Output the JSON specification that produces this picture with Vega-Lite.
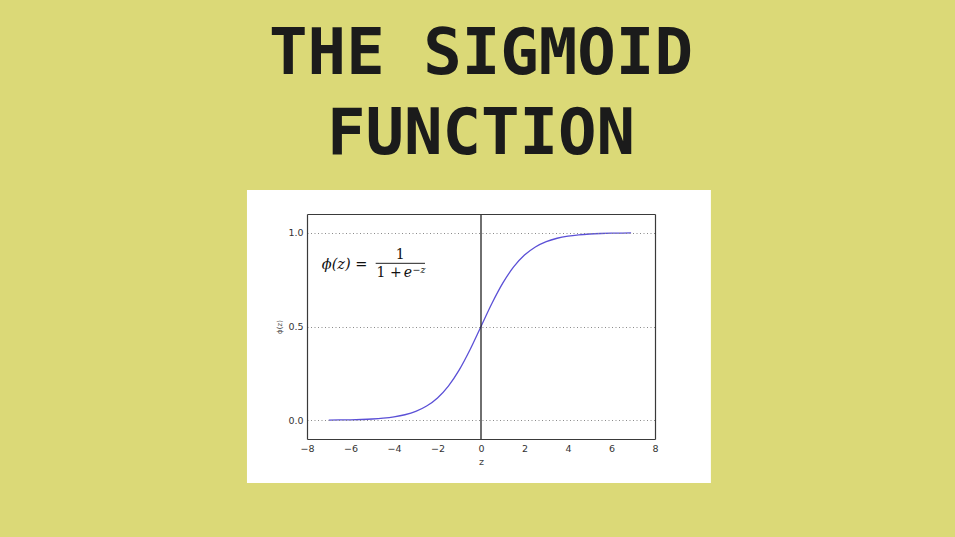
{
  "$schema": "https://vega.github.io/schema/vega-lite/v6.json",
  "width": 348,
  "height": 225,
  "autosize": {"type": "none"},
  "padding": {"left": 307, "top": 214, "right": 300, "bottom": 98},
  "background": "#dbd977",
  "title": {
    "text": ["THE SIGMOID", "FUNCTION"],
    "font": "DejaVu Sans Mono",
    "fontSize": 64,
    "fontWeight": "bold",
    "color": "#1b1b1b",
    "lineHeight": 80,
    "anchor": "middle",
    "offset": 23
  },
  "config": {
    "view": {"stroke": null},
    "axis": {
      "domainColor": "#3a3a3a",
      "domainWidth": 1.2,
      "tickColor": "#3a3a3a",
      "tickSize": 0,
      "labelFont": "DejaVu Sans",
      "labelFontSize": 9.5,
      "labelColor": "#333333",
      "labelFlush": false,
      "titleFont": "DejaVu Sans",
      "titleFontWeight": "normal",
      "titleColor": "#444444",
      "grid": false
    }
  },
  "datasets": {
    "one": [{"item": "panel"}],
    "sigmoid": [
      {"z": -7.0, "phi": 0.000911},
      {"z": -6.5, "phi": 0.001501},
      {"z": -6.0, "phi": 0.002473},
      {"z": -5.5, "phi": 0.00407},
      {"z": -5.0, "phi": 0.006693},
      {"z": -4.5, "phi": 0.010987},
      {"z": -4.0, "phi": 0.017986},
      {"z": -3.5, "phi": 0.029312},
      {"z": -3.0, "phi": 0.047426},
      {"z": -2.5, "phi": 0.075858},
      {"z": -2.0, "phi": 0.119203},
      {"z": -1.5, "phi": 0.182426},
      {"z": -1.0, "phi": 0.268941},
      {"z": -0.5, "phi": 0.377541},
      {"z": 0.0, "phi": 0.5},
      {"z": 0.5, "phi": 0.622459},
      {"z": 1.0, "phi": 0.731059},
      {"z": 1.5, "phi": 0.817574},
      {"z": 2.0, "phi": 0.880797},
      {"z": 2.5, "phi": 0.924142},
      {"z": 3.0, "phi": 0.952574},
      {"z": 3.5, "phi": 0.970688},
      {"z": 4.0, "phi": 0.982014},
      {"z": 4.5, "phi": 0.989013},
      {"z": 5.0, "phi": 0.993307},
      {"z": 5.5, "phi": 0.99593},
      {"z": 6.0, "phi": 0.997527},
      {"z": 6.5, "phi": 0.998499},
      {"z": 6.9, "phi": 0.998994}
    ]
  },
  "data": {"name": "one"},
  "layer": [
    {
      "mark": {"type": "rect", "fill": "#ffffff", "stroke": null},
      "encoding": {
        "x": {"datum": -10.76, "type": "quantitative", "scale": {"domain": [-8, 8], "nice": false, "zero": false}, "axis": null},
        "x2": {"datum": 10.57},
        "y": {"datum": 1.228, "type": "quantitative", "scale": {"domain": [-0.1, 1.1], "nice": false, "zero": false}, "axis": null},
        "y2": {"datum": -0.334}
      }
    },
    {
      "data": {"name": "sigmoid"},
      "mark": {"type": "line", "color": "#5b50d6", "strokeWidth": 1.3, "interpolate": "monotone"},
      "encoding": {
        "x": {
          "field": "z", "type": "quantitative",
          "scale": {"domain": [-8, 8], "nice": false, "zero": false},
          "axis": {"orient": "bottom", "zindex": 1, "values": [-8, -6, -4, -2, 0, 2, 4, 6, 8], "title": "z", "titlePadding": 4, "titleFontSize": 9.5, "labelPadding": 4,
                   "encode": {"ticks": {"update": {"y2": {"value": -3}}}}}
        },
        "y": {
          "field": "phi", "type": "quantitative",
          "scale": {"domain": [-0.1, 1.1], "nice": false, "zero": false},
          "axis": {"orient": "left", "zindex": 1, "values": [0, 0.5, 1], "format": ".1f", "title": "ϕ(z)", "titleFontSize": 7, "titlePadding": 5, "labelPadding": 4,
                   "grid": true, "gridColor": "#8a8a8a", "gridDash": [1, 2.5], "gridWidth": 1,
                   "encode": {"ticks": {"update": {"x2": {"value": 3}}}}}
        }
      }
    },
    {
      "mark": {"type": "rule", "color": "#222222", "strokeWidth": 1.3},
      "encoding": {
        "x": {
          "datum": 0, "type": "quantitative",
          "scale": {"domain": [-8, 8], "nice": false, "zero": false},
          "axis": {"orient": "top", "zindex": 1, "values": [-8, -6, -4, -2, 0, 2, 4, 6, 8], "labels": false, "title": null,
                   "encode": {"ticks": {"update": {"y2": {"value": 3}}}}}
        }
      }
    },
    {
      "mark": {"type": "rule", "color": "#222222", "strokeWidth": 1},
      "encoding": {
        "x": {"datum": -4.842, "type": "quantitative", "scale": {"domain": [-8, 8], "nice": false, "zero": false}, "axis": null},
        "x2": {"datum": -2.575},
        "y": {
          "datum": 0.837, "type": "quantitative",
          "scale": {"domain": [-0.1, 1.1], "nice": false, "zero": false},
          "axis": {"orient": "right", "zindex": 1, "values": [0, 0.5, 1], "labels": false, "title": null,
                   "encode": {"ticks": {"update": {"x2": {"value": -3}}}}}
        }
      }
    },
    {
      "mark": {"type": "text", "text": "ϕ(z) =", "font": "DejaVu Serif", "fontStyle": "italic", "fontSize": 14.5, "align": "left", "baseline": "alphabetic", "color": "#111111"},
      "encoding": {
        "x": {"datum": -7.32, "type": "quantitative", "scale": {"domain": [-8, 8], "nice": false, "zero": false}, "axis": null},
        "y": {"datum": 0.806, "type": "quantitative", "scale": {"domain": [-0.1, 1.1], "nice": false, "zero": false}, "axis": null}
      }
    },
    {
      "mark": {"type": "text", "text": "1", "font": "DejaVu Serif", "fontSize": 14, "align": "center", "baseline": "alphabetic", "color": "#111111"},
      "encoding": {
        "x": {"datum": -3.72, "type": "quantitative", "scale": {"domain": [-8, 8], "nice": false, "zero": false}, "axis": null},
        "y": {"datum": 0.862, "type": "quantitative", "scale": {"domain": [-0.1, 1.1], "nice": false, "zero": false}, "axis": null}
      }
    },
    {
      "mark": {"type": "text", "text": "1 +", "font": "DejaVu Serif", "fontSize": 14, "align": "left", "baseline": "alphabetic", "color": "#111111"},
      "encoding": {
        "x": {"datum": -4.8, "type": "quantitative", "scale": {"domain": [-8, 8], "nice": false, "zero": false}, "axis": null},
        "y": {"datum": 0.762, "type": "quantitative", "scale": {"domain": [-0.1, 1.1], "nice": false, "zero": false}, "axis": null}
      }
    },
    {
      "mark": {"type": "text", "text": "e", "font": "DejaVu Serif", "fontStyle": "italic", "fontSize": 14, "align": "left", "baseline": "alphabetic", "color": "#111111"},
      "encoding": {
        "x": {"datum": -3.55, "type": "quantitative", "scale": {"domain": [-8, 8], "nice": false, "zero": false}, "axis": null},
        "y": {"datum": 0.762, "type": "quantitative", "scale": {"domain": [-0.1, 1.1], "nice": false, "zero": false}, "axis": null}
      }
    },
    {
      "mark": {"type": "text", "text": "−z", "font": "DejaVu Serif", "fontStyle": "italic", "fontSize": 9.5, "align": "left", "baseline": "alphabetic", "color": "#111111"},
      "encoding": {
        "x": {"datum": -3.15, "type": "quantitative", "scale": {"domain": [-8, 8], "nice": false, "zero": false}, "axis": null},
        "y": {"datum": 0.788, "type": "quantitative", "scale": {"domain": [-0.1, 1.1], "nice": false, "zero": false}, "axis": null}
      }
    }
  ],
  "resolve": {"axis": {"x": "independent", "y": "independent"}}
}
